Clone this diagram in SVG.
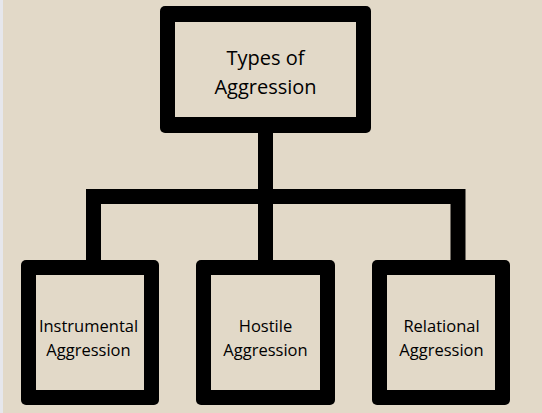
<svg xmlns="http://www.w3.org/2000/svg" width="542" height="413" viewBox="0 0 542 413">
<style>
.frame{fill:#000000}
.inner{fill:#e2d9c8}
.conn{fill:none;stroke:#000000;stroke-width:15;stroke-linejoin:miter}
.lbl{font-family:"Open Sans","Noto Sans","Liberation Sans",sans-serif;fill:#000000;text-anchor:middle}
.big{font-size:20px}
.small{font-size:16.5px}
</style>
<rect x="0" y="0" width="542" height="413" fill="#e2d9c8"/>
<rect x="0" y="0" width="3" height="413" fill="#e6e7ec"/>
<g id="connectors">
<path class="conn" d="M265.5 130 V196.5"/>
<path class="conn" d="M93.5 263 V196.5 H458 V263"/>
<path class="conn" d="M265.5 196.5 V263"/>
</g>
<g id="root">
<rect class="frame" x="160" y="6" width="211" height="127" rx="5"/>
<rect class="inner" x="175" y="22" width="181" height="95"/>
<text class="lbl big" x="265.5" y="65">Types of</text>
<text class="lbl big" x="265.5" y="94">Aggression</text>
</g>
<g id="instrumental">
<rect class="frame" x="21" y="260" width="138" height="145" rx="5"/>
<rect class="inner" x="36" y="275" width="108" height="115"/>
<text class="lbl small" x="88.5" y="332">Instrumental</text>
<text class="lbl small" x="88.5" y="355.5">Aggression</text>
</g>
<g id="hostile">
<rect class="frame" x="196" y="260" width="139" height="145" rx="5"/>
<rect class="inner" x="211" y="275" width="109" height="115"/>
<text class="lbl small" x="265.5" y="332">Hostile</text>
<text class="lbl small" x="265.5" y="355.5">Aggression</text>
</g>
<g id="relational">
<rect class="frame" x="372" y="260" width="138" height="145" rx="5"/>
<rect class="inner" x="387" y="275" width="108" height="115"/>
<text class="lbl small" x="441.5" y="332">Relational</text>
<text class="lbl small" x="441.5" y="355.5">Aggression</text>
</g>
</svg>
